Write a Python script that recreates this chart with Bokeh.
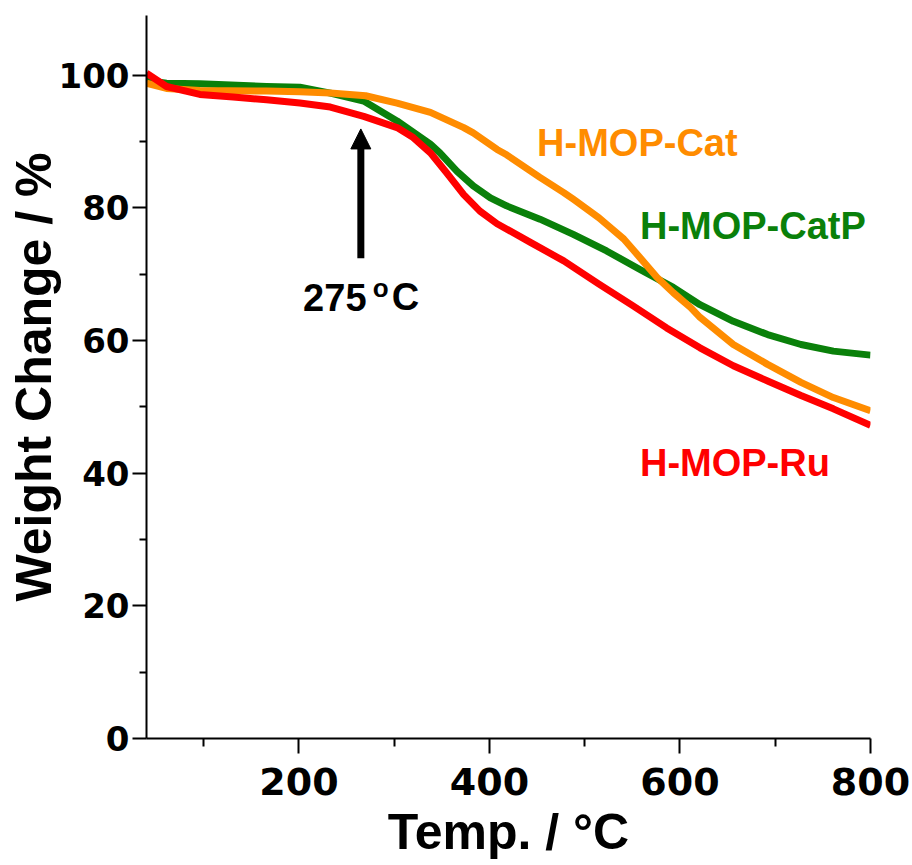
from bokeh.plotting import figure
from bokeh.models import Range1d, FixedTicker, Arrow, NormalHead, Label
from bokeh.embed import file_html
from bokeh.resources import INLINE

# ---- data ----
ru_temp = [40, 61, 96, 131, 166, 201, 233, 268, 303, 320, 338, 355, 373, 390, 408,
           443, 478, 515, 550, 586, 621, 656, 692, 727, 761, 800]
ru_weight = [100.3, 98.3, 97.1, 96.7, 96.3, 95.8, 95.2, 93.8, 92.1, 90.6, 88.3, 85.3, 82.0, 79.5, 77.6,
             74.8, 72.0, 68.5, 65.3, 61.9, 58.9, 56.2, 53.9, 51.7, 49.7, 47.2]

catp_temp = [40, 61, 96, 166, 201, 233, 268, 303, 338, 348, 366, 383, 401, 418, 453,
             488, 523, 558, 593, 621, 656, 692, 727, 761, 800]
catp_weight = [99.2, 98.8, 98.7, 98.3, 98.2, 97.3, 96.1, 93.1, 89.6, 88.3, 85.5, 83.3, 81.5, 80.3, 78.3,
               76.0, 73.5, 70.7, 68.0, 65.4, 62.9, 60.9, 59.4, 58.4, 57.8]

cat_temp = [40, 61, 96, 166, 201, 233, 270, 303, 338, 373, 383, 408, 418, 453, 478,
            488, 515, 523, 541, 558, 576, 593, 611, 621, 656, 692, 727, 761, 800]
cat_weight = [98.8, 98.0, 97.7, 97.6, 97.5, 97.3, 96.9, 95.8, 94.4, 92.1, 91.3, 88.8, 88.0, 84.6, 82.3,
              81.3, 78.5, 77.5, 75.3, 72.5, 69.5, 67.2, 65.0, 63.5, 59.4, 56.4, 53.7, 51.4, 49.4]

series_names = ["H-MOP-CatP", "H-MOP-Cat", "H-MOP-Ru"]
series_colors = ["#0a800a", "#ff8c00", "#ff0000"]
label_x = [558, 450, 558]
label_y = [77.2, 89.8, 41.6]

x_major = [200, 400, 600, 800]
x_minor = [100, 300, 500, 700]
y_major = [0, 20, 40, 60, 80, 100]
y_minor = [10, 30, 50, 70, 90]

arrow_temp = 265
arrow_from = 72.4
arrow_to = 91.9
onset_label = "275"

# ---- figure ----
p = figure(frame_width=724, frame_height=723,
           x_range=Range1d(40, 800), y_range=Range1d(0, 109),
           output_backend="svg", toolbar_location=None,
           min_border_left=146, min_border_right=42,
           min_border_top=15, min_border_bottom=127,
           background_fill_color="white", border_fill_color="white")
p.xgrid.visible = False
p.ygrid.visible = False
p.outline_line_color = None

for ax in (p.xaxis[0], p.yaxis[0]):
    ax.axis_line_color = "black"
    ax.axis_line_width = 2
    ax.major_tick_line_color = "black"
    ax.major_tick_line_width = 2
    ax.minor_tick_line_color = "black"
    ax.minor_tick_line_width = 2
    ax.major_tick_in = 0
    ax.minor_tick_in = 0
    ax.major_label_text_font = "DejaVu Sans"
    ax.major_label_text_font_style = "bold"
    ax.major_label_text_color = "black"
    ax.axis_label_text_font = "Liberation Sans"
    ax.axis_label_text_font_style = "bold"
    ax.axis_label_text_font_size = "50px"
    ax.axis_label_text_color = "black"

p.xaxis.ticker = FixedTicker(ticks=x_major, minor_ticks=x_minor)
p.yaxis.ticker = FixedTicker(ticks=y_major, minor_ticks=y_minor)
p.xaxis.major_tick_out = 15
p.xaxis.minor_tick_out = 8
p.yaxis.major_tick_out = 14
p.yaxis.minor_tick_out = 7
p.xaxis.major_label_text_font_size = "38px"
p.yaxis.major_label_text_font_size = "34px"
p.xaxis.major_label_standoff = 14
p.yaxis.major_label_standoff = 3
p.xaxis.axis_label = "Temp. / °C"
p.yaxis.axis_label = "Weight Change / %"
p.xaxis.axis_label_standoff = 6
p.yaxis.axis_label_standoff = -6

# ---- curves ----
p.line(catp_temp, catp_weight, line_color=series_colors[0], line_width=7, line_join="round")
p.line(cat_temp, cat_weight, line_color=series_colors[1], line_width=7, line_join="round")
p.line(ru_temp, ru_weight, line_color=series_colors[2], line_width=7, line_join="round")

for name, col, lx, ly in zip(series_names, series_colors, label_x, label_y):
    p.add_layout(Label(x=lx, y=ly, text=name, text_color=col,
                       text_font="Liberation Sans", text_font_style="bold",
                       text_font_size="38px", text_align="left",
                       text_baseline="alphabetic"))

# ---- onset arrow and label ----
p.add_layout(Arrow(end=NormalHead(size=20, fill_color="black", line_color="black", line_width=1),
                   x_start=arrow_temp, y_start=arrow_from, x_end=arrow_temp, y_end=arrow_to,
                   line_width=7, line_color="black"))
p.add_layout(Label(x=204.4, y=66.5, text=onset_label, text_color="black",
                   text_font="Liberation Sans", text_font_style="bold", text_font_size="38px",
                   text_align="left", text_baseline="alphabetic"))
p.add_layout(Label(x=277.5, y=67.9, text="o", text_color="black",
                   text_font="Liberation Sans", text_font_style="bold", text_font_size="26px",
                   text_align="left", text_baseline="alphabetic"))
p.add_layout(Label(x=297.5, y=66.5, text="C", text_color="black",
                   text_font="Liberation Sans", text_font_style="bold", text_font_size="38px",
                   text_align="left", text_baseline="alphabetic"))

open("out.html", "w").write(file_html(p, INLINE))
